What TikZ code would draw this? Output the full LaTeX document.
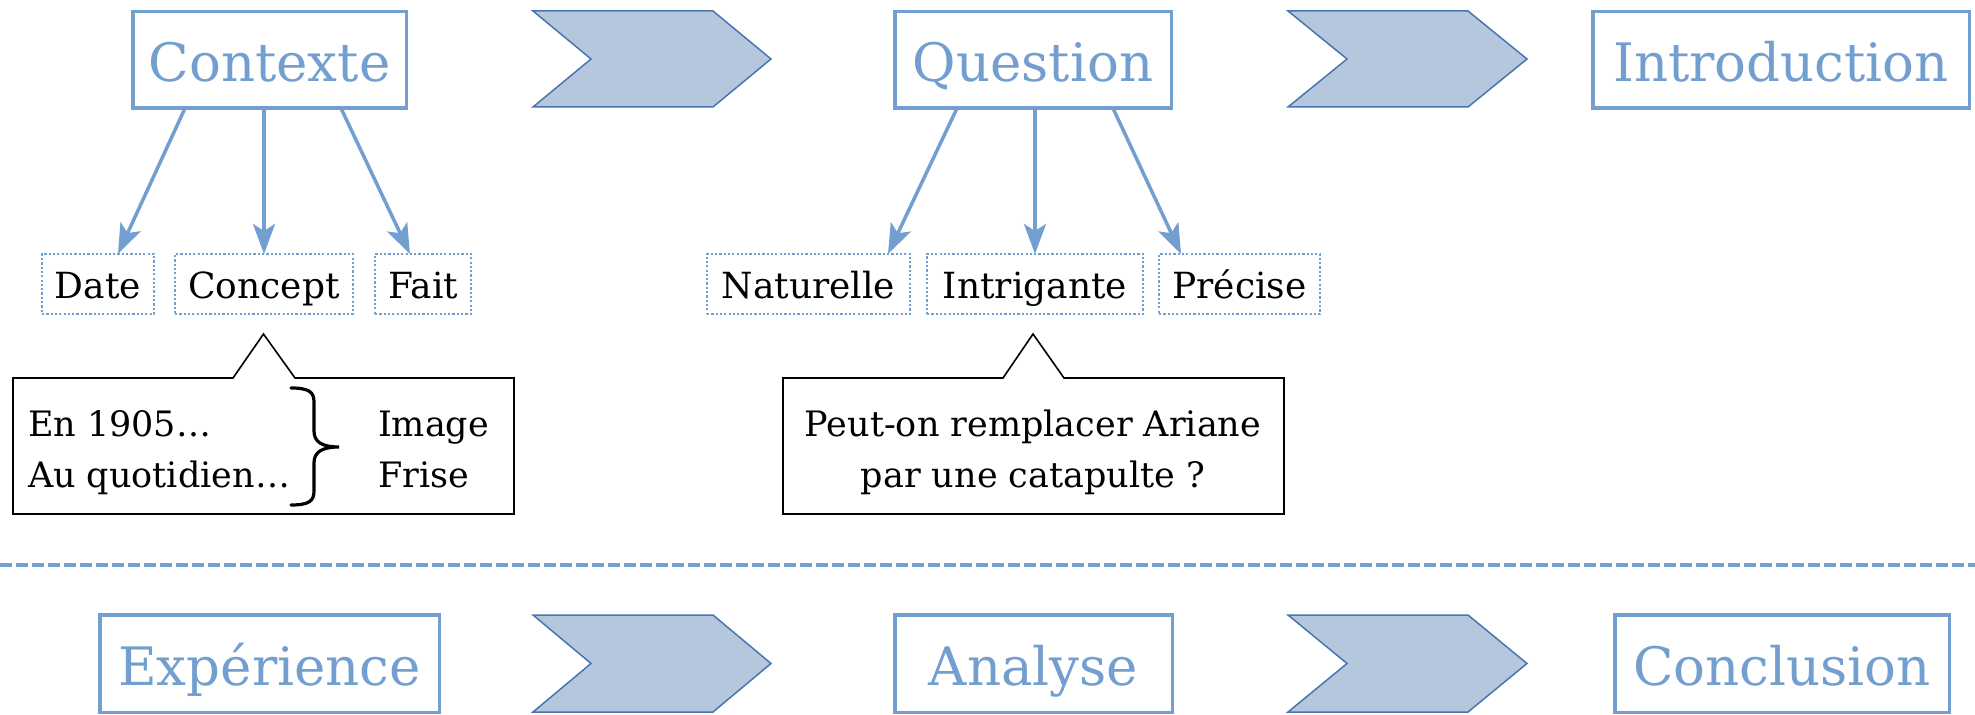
\documentclass[tikz,border=0pt]{standalone}
\usepackage{fontspec}
\setmainfont{DejaVu Serif}
\usetikzlibrary{arrows.meta,calc}
\definecolor{boxblue}{RGB}{114,159,207}
\definecolor{chevfill}{RGB}{180,199,220}
\definecolor{chevdraw}{RGB}{74,116,178}
\tikzset{
  mainbox/.style={draw=boxblue, line width=1.75pt, text=boxblue, font=\fontsize{26.5}{30}\selectfont,
    inner sep=0pt, outer sep=0pt, minimum height=48.25pt, text height=22pt, text depth=0pt},
  subbox/.style={draw=boxblue, line width=1.2pt, dash pattern=on 1.1pt off 1.05pt, font=\fontsize{18}{22}\selectfont,
    inner sep=0pt, outer sep=0pt, minimum height=30pt, text height=16pt, text depth=1pt},
  chev/.style={fill=chevfill, draw=chevdraw, line width=0.75pt, line join=miter},
  conn/.style={draw=boxblue, line width=1.75pt, -{Stealth[length=15pt,width=11pt,inset=3.5pt]}},
  bubble/.style={draw=black, line width=0.8pt, line join=miter},
  bubarea/.style={inner sep=0pt, outer sep=0pt, minimum width=250.5pt, minimum height=68pt},
  bubtext/.style={font=\fontsize{17.5}{25.5}\selectfont, inner sep=0pt, outer sep=0pt},
}
\begin{document}
\begin{tikzpicture}[x=0.5pt, y=-0.5pt]
\useasboundingbox (0,0) rectangle (1975,715);

% top row
\node[mainbox, minimum width=136.75pt] (ctx) at (269.5,60) {Contexte};
\node[mainbox, minimum width=138.25pt] (qst) at (1033,60) {Question};
\node[mainbox, minimum width=188.25pt] (intro) at (1781,60) {Introduction};

\draw[chev] (533,11) -- (713,11) -- (771,59) -- (713,107) -- (533,107) -- (591,59) -- cycle;
\draw[chev] (1288,11) -- (1468,11) -- (1527,59) -- (1468,107) -- (1288,107) -- (1347,59) -- cycle;

% sub boxes
\node[subbox, minimum width=56pt] (date) at (98,284) {Date};
\node[subbox, minimum width=89pt] (concept) at (264,284) {Concept};
\node[subbox, minimum width=48pt] (fait) at (423,284) {Fait};
\node[subbox, minimum width=101.5pt] (nat) at (808.5,284) {Naturelle};
\node[subbox, minimum width=108pt] (intr) at (1035,284) {Intrigante};
\node[subbox, minimum width=80.5pt] (prec) at (1239.5,284) {Précise};

% connectors
\draw[conn] ($(ctx.south)+(-84.5,0)$) -- ($(date.north)+(20,0)$);
\draw[conn] (ctx.south -| concept.north) -- (concept.north);
\draw[conn] ($(ctx.south)+(71.5,0)$) -- ($(fait.north)+(-13,0)$);
\draw[conn] ($(qst.south)+(-76,0)$) -- ($(nat.north)+(79.5,0)$);
\draw[conn] (qst.south -| intr.north) -- (intr.north);
\draw[conn] ($(qst.south)+(80,0)$) -- ($(prec.north)+(-58.5,0)$);

% callout 1
\node[bubarea] (c1) at (263.5,446) {};
\draw[bubble] (c1.north west) -- ($(c1.north)+(-30.5,0)$) -- ($(c1.north)+(0,-44)$)
  -- ($(c1.north)+(31.5,0)$) -- (c1.north east) -- (c1.south east) -- (c1.south west) -- cycle;
\node[bubtext, anchor=base west] (en) at (28,437) {En 1905…};
\node[bubtext, anchor=base west] (quot) at (28,488) {Au quotidien…};
\node[bubtext, anchor=base west] (img) at (378,437) {Image};
\node[bubtext, anchor=base west] (frise) at (378,488) {Frise};
\draw[line width=1.6pt, line cap=round] (291,388) .. controls (309,388) and (314,392) .. (314,402)
  -- (314,431) .. controls (314,442) and (322,447) .. (339,447)
  .. controls (322,447) and (314,452) .. (314,463)
  -- (314,491) .. controls (314,501) and (309,505) .. (291,505);

% callout 2
\node[bubarea] (c2) at (1033.5,446) {};
\draw[bubble] (c2.north west) -- ($(c2.north)+(-30.5,0)$) -- ($(c2.north)+(-0.5,-44)$)
  -- ($(c2.north)+(30.5,0)$) -- (c2.north east) -- (c2.south east) -- (c2.south west) -- cycle;
\node[bubtext, anchor=base] (q1) at (1033,437) {Peut-on remplacer Ariane};
\node[bubtext, anchor=base] (q2) at (1033,488) {par une catapulte ?};

% separator
\coordinate (sepL) at (0,565);
\coordinate (sepR) at (1975,565);
\draw[boxblue, line width=1.7pt, dash pattern=on 6pt off 2pt] (sepL) -- (sepR);

% bottom row
\node[mainbox, minimum width=169.75pt, minimum height=48.75pt] (exp) at (269.5,663.5) {Expérience};
\node[mainbox, minimum width=138.75pt, minimum height=48.75pt] (ana) at (1033.5,663.5) {Analyse};
\node[mainbox, minimum width=167.25pt, minimum height=48.75pt] (concl) at (1782,663.5) {Conclusion};

\draw[chev] (533,615) -- (713,615) -- (771,663.5) -- (713,712) -- (533,712) -- (591,663.5) -- cycle;
\draw[chev] (1288,615) -- (1468,615) -- (1527,663.5) -- (1468,712) -- (1288,712) -- (1347,663.5) -- cycle;
\end{tikzpicture}
\end{document}
